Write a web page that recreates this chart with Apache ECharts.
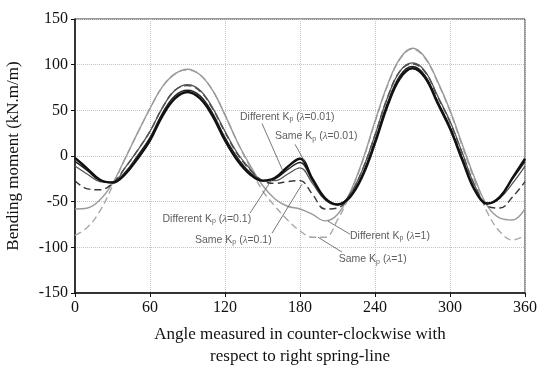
<!DOCTYPE html>
<html><head><meta charset="utf-8">
<script src="https://cdn.jsdelivr.net/npm/echarts@6/dist/echarts.min.js"></script>
<style>html,body{margin:0;padding:0;background:#fff}#c{width:537px;height:369px}</style>
</head><body><div id="c"></div>
<script>
// angles (degrees)
const angles = [0,10,20,30,40,50,60,70,80,90,100,110,120,130,140,150,160,170,180,190,200,210,220,230,240,250,260,270,280,290,300,310,320,330,340,350,360];
// Bending moment series (kN.m/m)
const diff001 = [-2,-14,-26,-29,-20,-3,17,44,63,70,63,44,17,-5,-20,-27,-24,-12,-3,-25,-46,-53,-45,-22,14,55,85,96,86,58,30,-5,-38,-52,-45,-24,-3];
const same001 = [-6,-16,-27,-29,-18,0,20,47,66,72,66,47,20,-2,-18,-27,-25,-15,-7,-27,-47,-53,-44,-20,17,58,88,98,88,60,32,-3,-37,-52,-44,-25,-6];
const diff01  = [-11,-20,-28,-29,-13,6,27,53,72,78,72,53,27,3,-14,-27,-27,-20,-13,-30,-48,-54,-42,-15,23,64,93,102,93,66,38,3,-33,-52,-46,-30,-11];
const same01  = [-27,-36,-37,-30,-13,6,27,53,72,77,71,52,26,2,-15,-27,-30,-28,-27,-42,-58,-57,-42,-15,23,64,93,101,92,65,37,2,-33,-55,-57,-45,-28];
const diff1   = [-58,-57,-48,-30,-3,25,52,76,90,95,89,72,45,15,-10,-32,-47,-55,-58,-64,-71,-64,-40,-5,38,78,107,118,108,82,50,12,-25,-55,-68,-70,-58];
const same1   = [-87,-78,-60,-33,-3,25,52,76,90,94,89,72,45,15,-12,-38,-55,-70,-82,-89,-89,-70,-42,-6,37,77,106,117,107,81,49,10,-28,-62,-83,-92,-87];
// tick labels
const xTicks = [0,60,120,180,240,300,360];
const yTicks = [-150,-100,-50,0,50,100,150];
// annotation texts, anchors (text left-middle) and leader lines, in data units
const annoNames = ['Different','Same','Different','Same','Different','Same'];
const annoLambda = ['0.01','0.01','0.1','0.1','1','1'];
const annoAnchor = [[132,43],[160,21.5],[70,-69],[96,-92],[220,-87.5],[211,-113]];
const annoLeaders = [
  [[149.6,35.6],[166.4,-16.7]],
  [[176,12.8],[184,-6.9]],
  [[140,-62.6],[157.6,-25.5]],
  [[157.6,-84.5],[181.6,-30.9]],
  [[220,-85.6],[202.4,-71.4]],
  [[213.6,-105.2],[194.4,-88.9]]
];

const pairs = arr => angles.map((a,i)=>[a,arr[i]]);
const chart = echarts.init(document.getElementById('c'), null, {renderer:'canvas'});
const serif = '"Liberation Serif","Times New Roman",serif';
const sans = '"Liberation Sans",Arial,sans-serif';

function lineSeries(name, arr, color, width, type, z){
  return {name, type:'line', data:pairs(arr), smooth:0.4, showSymbol:false, symbol:'none', silent:true, z,
    lineStyle:{color, width, type}};
}
const series = [
  lineSeries('Same Kp (λ=1)', same1, '#a8a8a8', 1.4, [7,4], 2),
  lineSeries('Different Kp (λ=1)', diff1, '#9a9a9a', 1.4, 'solid', 2),
  lineSeries('Same Kp (λ=0.1)', same01, '#3a3a3a', 1.4, [7,4], 3),
  lineSeries('Different Kp (λ=0.1)', diff01, '#555555', 1.3, 'solid', 3),
  lineSeries('Same Kp (λ=0.01)', same001, '#222222', 1.5, 'solid', 4),
  lineSeries('Different Kp (λ=0.01)', diff001, '#111111', 2.4, 'solid', 5)
];
annoLeaders.forEach((seg,i)=>{
  series.push({type:'line', data:seg, showSymbol:false, symbol:'none', silent:true, z:6,
    lineStyle:{color:'#555', width:0.8}});
});
series.push({type:'scatter', symbolSize:0, silent:true, z:7,
  data: annoAnchor.map((p,i)=>({value:p, idx:i})),
  label:{show:true, position:'right', distance:0,
    formatter: p => '{a|' + annoNames[p.dataIndex] + ' K}{s|p}{a| (}{i|λ}{a|=' + annoLambda[p.dataIndex] + ')}',
    rich:{
      a:{fontFamily:sans, fontSize:10.5, color:'#333'},
      s:{fontFamily:sans, fontSize:7, color:'#333', padding:[5,0,0,0]},
      i:{fontFamily:serif, fontSize:11, fontStyle:'italic', color:'#333'}
    }}
});

chart.setOption({
  animation:false,
  backgroundColor:'#fff',
  grid:{left:75, right:12, top:19, bottom:76, show:true, borderColor:'#333', borderWidth:1,
    containLabel:false, outerBoundsMode:'none'},
  xAxis:{type:'value', min:0, max:360, interval:60,
    axisLine:{show:true, onZero:false, lineStyle:{color:'#111', width:1.5}},
    axisTick:{show:true, inside:false, length:4, lineStyle:{color:'#111'}},
    axisLabel:{fontFamily:serif, fontSize:16, color:'#111', margin:7,
      formatter: v => xTicks.includes(v) ? String(v) : ''},
    splitLine:{show:true, lineStyle:{color:'#c4c4c4', type:'dotted', width:1}},
    name:'Angle measured in counter-clockwise with\nrespect to right spring-line',
    nameLocation:'middle', nameGap:31,
    nameTextStyle:{fontFamily:serif, fontSize:17, color:'#111', lineHeight:22}
  },
  yAxis:{type:'value', min:-150, max:150, interval:50,
    axisLine:{show:true, onZero:false, lineStyle:{color:'#111', width:1.5}},
    axisTick:{show:true, inside:false, length:4, lineStyle:{color:'#111'}},
    axisLabel:{fontFamily:serif, fontSize:16, color:'#111', margin:7,
      formatter: v => yTicks.includes(v) ? String(v) : ''},
    splitLine:{show:true, lineStyle:{color:'#c4c4c4', type:'dotted', width:1}},
    name:'Bending moment (kN.m/m)', nameLocation:'middle', nameGap:53, nameRotate:90,
    nameTextStyle:{fontFamily:serif, fontSize:17, color:'#111'}
  },
  series
});
</script></body></html>
